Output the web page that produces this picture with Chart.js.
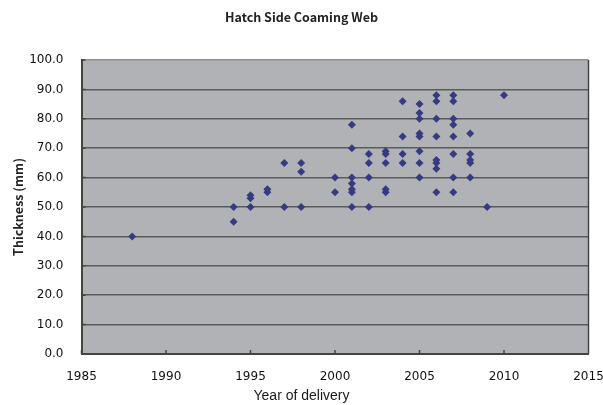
<!DOCTYPE html>
<html>
<head>
<meta charset="utf-8">
<script src="https://cdn.jsdelivr.net/npm/chart.js@4.4.1/dist/chart.umd.min.js"></script>
<style>
  html, body { margin: 0; padding: 0; background: #fff; }
  #wrap { width: 603px; height: 405px; }
</style>
</head>
<body>
<div id="wrap"><canvas id="mainChart"></canvas></div>
<script>
// Year of delivery / thickness pairs
const deliveryYears = [
    1988,
    1994, 1994,
    1995, 1995, 1995,
    1996, 1996,
    1997, 1997,
    1998, 1998, 1998,
    2000, 2000,
    2001, 2001, 2001, 2001, 2001, 2001, 2001,
    2002, 2002, 2002, 2002,
    2003, 2003, 2003, 2003, 2003,
    2004, 2004, 2004, 2004,
    2005, 2005, 2005, 2005, 2005, 2005, 2005, 2005,
    2006, 2006, 2006, 2006, 2006, 2006, 2006, 2006,
    2007, 2007, 2007, 2007, 2007, 2007, 2007, 2007,
    2008, 2008, 2008, 2008, 2008,
    2009,
    2010
];
const thicknessMm = [
    40,
    45, 50,
    50, 53, 54,
    55, 56,
    50, 65,
    50, 62, 65,
    55, 60,
    50, 55, 56, 58, 60, 70, 78,
    50, 60, 65, 68,
    55, 56, 65, 68, 69,
    65, 68, 74, 86,
    60, 65, 69, 74, 75, 80, 82, 85,
    55, 63, 65, 66, 74, 80, 86, 88,
    55, 60, 68, 74, 78, 80, 86, 88,
    60, 65, 66, 68, 75,
    50,
    88
];
const xTickYears = [1985, 1990, 1995, 2000, 2005, 2010, 2015];
const yTickValues = [0, 10, 20, 30, 40, 50, 60, 70, 80, 90, 100];

const GOTHIC = '"Noto Sans CJK JP", "DejaVu Sans", sans-serif';
const TICKFONT = '"DejaVu Sans", sans-serif';

// grey plot area, right border and the small inward tick marks
const plotFrame = {
    id: 'plotFrame',
    beforeDraw(chart) {
        const { ctx, chartArea: a } = chart;
        ctx.save();
        ctx.fillStyle = '#b1b2b6';
        ctx.fillRect(a.left, a.top, a.right - a.left, a.bottom - a.top);
        ctx.restore();
    },
    afterDraw(chart) {
        const { ctx, chartArea: a, scales } = chart;
        ctx.save();
        ctx.strokeStyle = '#444';
        ctx.lineWidth = 1.5;
        ctx.beginPath();
        ctx.moveTo(a.right, a.top);
        ctx.lineTo(a.right, a.bottom);
        xTickYears.forEach(v => {
            const px = scales.x.getPixelForValue(v);
            ctx.moveTo(px, a.bottom);
            ctx.lineTo(px, a.bottom - 4);
        });
        yTickValues.forEach(v => {
            const py = scales.y.getPixelForValue(v);
            ctx.moveTo(a.left, py);
            ctx.lineTo(a.left + 4, py);
        });
        ctx.stroke();
        ctx.restore();
    }
};

const points = deliveryYears.map((yr, i) => ({ x: yr, y: thicknessMm[i] }));

new Chart(document.getElementById('mainChart'), {
    type: 'scatter',
    data: {
        datasets: [{
            data: points,
            pointStyle: 'rectRot',
            pointRadius: 4,
            pointBackgroundColor: '#363b80',
            pointBorderColor: '#363b80',
            pointBorderWidth: 0
        }]
    },
    options: {
        responsive: true,
        maintainAspectRatio: false,
        animation: false,
        layout: { padding: 0 },
        plugins: {
            legend: { display: false },
            tooltip: { enabled: false },
            title: {
                display: true,
                text: 'Hatch Side Coaming Web',
                color: '#222',
                font: { family: GOTHIC, size: 12.5, weight: 'bold', lineHeight: 1.2 },
                padding: { top: 10, bottom: 35 }
            },
            // x axis name sits centred on the whole canvas in the original
            subtitle: {
                display: true,
                position: 'bottom',
                text: 'Year of delivery',
                color: '#1a1a1a',
                font: { family: '"Liberation Sans", Arial, sans-serif', size: 14, weight: 'normal', lineHeight: 1.2 },
                padding: { top: 0, bottom: 0 }
            }
        },
        scales: {
            x: {
                type: 'linear',
                min: 1985,
                max: 2015,
                afterBuildTicks: scale => { scale.ticks = xTickYears.map(v => ({ value: v })); },
                afterFit: scale => {
                    scale.height = 34.2;
                    scale.paddingLeft = 0;
                    scale.paddingRight = 14.5;
                },
                grid: { drawOnChartArea: false, drawTicks: false },
                border: { display: true, color: '#444', width: 2 },
                ticks: {
                    color: '#111',
                    padding: 15.5,
                    maxRotation: 0,
                    font: { family: TICKFONT, size: 12, weight: 'normal' },
                    callback: v => String(v)
                }
            },
            y: {
                min: 0,
                max: 100,
                afterBuildTicks: scale => { scale.ticks = yTickValues.map(v => ({ value: v })); },
                afterFit: scale => { scale.width = 81.5; },
                grid: {
                    drawTicks: false,
                    color: ctx => ctx.tick && ctx.tick.value === 100 ? '#8e8f93' : '#5a5a5e',
                    lineWidth: 1.5
                },
                border: { display: true, color: '#444', width: 2 },
                ticks: {
                    color: '#111',
                    padding: 18,
                    font: { family: TICKFONT, size: 12, weight: 'normal' },
                    callback: v => Number(v).toFixed(1)
                },
                title: {
                    display: true,
                    text: 'Thickness (mm)',
                    color: '#222',
                    font: { family: GOTHIC, size: 12.5, weight: 'bold', lineHeight: 1.2 },
                    padding: { top: 11, bottom: 0 }
                }
            }
        }
    },
    plugins: [plotFrame]
});
</script>
</body>
</html>
